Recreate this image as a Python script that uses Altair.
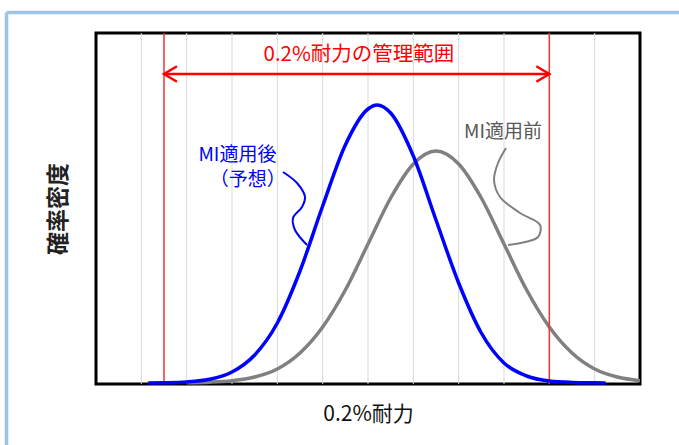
import altair as alt
import pandas as pd

FONT = "Noto Sans CJK JP"

# ---- data (x in grid units 0..12, y in relative density units) ----
blue_x = [1.15, 1.5, 2.0, 2.5, 3.0, 3.5, 4.0, 4.5, 5.0, 5.5, 6.0, 6.2, 6.5, 7.0, 7.5, 8.0, 8.5, 9.0, 9.5, 10.0, 10.5, 11.0, 11.24]
blue_y = [0.1, 0.3, 1.1, 3.7, 11, 28, 60, 112, 177, 238, 274, 278, 270, 227, 163, 100, 50, 20, 7, 2, 0.6, 0.2, 0.1]

gray_x = [2.0, 2.5, 3.0, 3.5, 4.0, 4.5, 5.0, 5.5, 6.0, 6.5, 7.0, 7.5, 8.0, 8.5, 9.0, 9.5, 10.0, 10.5, 11.0, 11.5, 12.0]
gray_y = [0.2, 0.8, 2.3, 6, 14, 30, 56, 93, 139, 185, 219, 232, 219, 185, 139, 93, 56, 30, 14, 6, 2.3]

grid_x = [1, 2, 3, 4, 5, 6, 7, 8, 9, 10, 11]
limits_x = [1.5, 10.0]
arrow_y = 309

# annotation leader curves
blue_lead_x = [4.125, 4.434, 4.611, 4.544, 4.346, 4.390, 4.655]
blue_lead_y = [211, 200, 186, 176, 165, 153, 138]
gray_lead_x = [9.045, 8.868, 8.780, 8.912, 9.354, 9.795, 9.751, 9.464, 9.089]
gray_lead_y = [235, 220, 203, 186, 170, 158, 146, 141, 138]

title_text = "0.2%耐力の管理範囲"
x_title = "0.2%耐力"
y_title = "確率密度"
label_after = ["MI適用後", "（予想）"]
label_before = "MI適用前"

W, H = 544, 351
xs = alt.Scale(domain=[0, 12], nice=False, zero=False)
ys = alt.Scale(domain=[-1, 350], nice=False, zero=False)

blue_df = pd.DataFrame({"x": blue_x, "y": blue_y})
gray_df = pd.DataFrame({"x": gray_x, "y": gray_y})
grid_df = pd.DataFrame({"x": grid_x})
lim_df = pd.DataFrame({"x": limits_x})
arrow_df = pd.DataFrame({"x": [limits_x[0]], "x2": [limits_x[1]], "y": [arrow_y]})
bl_df = pd.DataFrame({"x": blue_lead_x, "y": blue_lead_y, "o": range(len(blue_lead_x))})
gl_df = pd.DataFrame({"x": gray_lead_x, "y": gray_lead_y, "o": range(len(gray_lead_x))})

xaxis = alt.Axis(title=x_title, labels=False, ticks=False, domain=False, grid=False,
                 titleFont=FONT, titleFontSize=21, titleFontWeight="normal", titleColor="#111111",
                 titlePadding=19)
yaxis = alt.Axis(title=y_title, labels=False, ticks=False, domain=False, grid=False,
                 titleFont=FONT, titleFontSize=23, titleFontWeight="bold", titleColor="#222222",
                 titlePadding=26)

grid = alt.Chart(grid_df).mark_rule(color="#d9d9d9", strokeWidth=1).encode(
    x=alt.X("x:Q", scale=xs, axis=xaxis),
    y=alt.value(0), y2=alt.value(H),
)

gray_line = alt.Chart(gray_df).mark_line(color="#808080", strokeWidth=3.5, interpolate="monotone").encode(
    x=alt.X("x:Q", scale=xs), y=alt.Y("y:Q", scale=ys, axis=yaxis)
)

limits = alt.Chart(lim_df).mark_rule(color="#ee3333", strokeWidth=1.5).encode(
    x=alt.X("x:Q", scale=xs), y=alt.value(0), y2=alt.value(H)
)

blue_line = alt.Chart(blue_df).mark_line(color="#0000ff", strokeWidth=3.5, interpolate="monotone").encode(
    x=alt.X("x:Q", scale=xs), y=alt.Y("y:Q", scale=ys)
)

arrow = alt.Chart(arrow_df).mark_rule(color="#ff0000", strokeWidth=2.5).encode(
    x=alt.X("x:Q", scale=xs), x2="x2:Q", y=alt.Y("y:Q", scale=ys)
)
head_l = alt.Chart(pd.DataFrame({"x": [limits_x[0]], "y": [arrow_y]})).mark_point(
    shape="M1,-0.6L0,0L1,0.6", size=676, color="#ff0000", strokeWidth=2.5, filled=False, opacity=1
).encode(x=alt.X("x:Q", scale=xs), y=alt.Y("y:Q", scale=ys))
head_r = alt.Chart(pd.DataFrame({"x": [limits_x[1]], "y": [arrow_y]})).mark_point(
    shape="M-1,-0.6L0,0L-1,0.6", size=676, color="#ff0000", strokeWidth=2.5, filled=False, opacity=1
).encode(x=alt.X("x:Q", scale=xs), y=alt.Y("y:Q", scale=ys))

title_mark = alt.Chart(pd.DataFrame({"x": [5.80], "y": [328], "t": [title_text]})).mark_text(
    font=FONT, fontSize=20.5, color="#ff0000", align="center", baseline="middle"
).encode(x=alt.X("x:Q", scale=xs), y=alt.Y("y:Q", scale=ys), text="t:N")

after_mark = alt.Chart(pd.DataFrame({"x": [3.12, 3.35], "y": [228, 203], "t": label_after})).mark_text(
    font=FONT, fontSize=19, color="#0000ff", align="center", baseline="middle"
).encode(x=alt.X("x:Q", scale=xs), y=alt.Y("y:Q", scale=ys), text="t:N")

before_mark = alt.Chart(pd.DataFrame({"x": [8.98], "y": [251], "t": [label_before]})).mark_text(
    font=FONT, fontSize=19, color="#595959", align="center", baseline="middle"
).encode(x=alt.X("x:Q", scale=xs), y=alt.Y("y:Q", scale=ys), text="t:N")

blue_lead = alt.Chart(bl_df).mark_line(color="#0000ff", strokeWidth=2, interpolate="catmull-rom").encode(
    x=alt.X("x:Q", scale=xs), y=alt.Y("y:Q", scale=ys), order="o:Q"
)
gray_lead = alt.Chart(gl_df).mark_line(color="#808080", strokeWidth=2, interpolate="catmull-rom").encode(
    x=alt.X("x:Q", scale=xs), y=alt.Y("y:Q", scale=ys), order="o:Q"
)

# light-blue outer border (decoration)
border_top = alt.Chart(pd.DataFrame({"a": [0]})).mark_rule(color="#9dc3e6", strokeWidth=3.5).encode(
    x=alt.value(-89.5), x2=alt.value(700), y=alt.value(-20.5)
)
border_left = alt.Chart(pd.DataFrame({"a": [0]})).mark_rule(color="#9dc3e6", strokeWidth=3.5).encode(
    x=alt.value(-89.5), y=alt.value(-20.5), y2=alt.value(420)
)

chart = alt.layer(
    grid, gray_line, limits, blue_line, arrow, head_l, head_r,
    title_mark, after_mark, before_mark, blue_lead, gray_lead, border_top, border_left
).properties(
    width=W, height=H,
    autosize=alt.AutoSizeParams(type="none"),
    padding={"left": 96, "top": 33, "right": 39, "bottom": 61},
    background="white",
).configure_view(stroke="black", strokeWidth=3)

chart.save("out.html", embed_options={"renderer": "svg", "actions": False})
